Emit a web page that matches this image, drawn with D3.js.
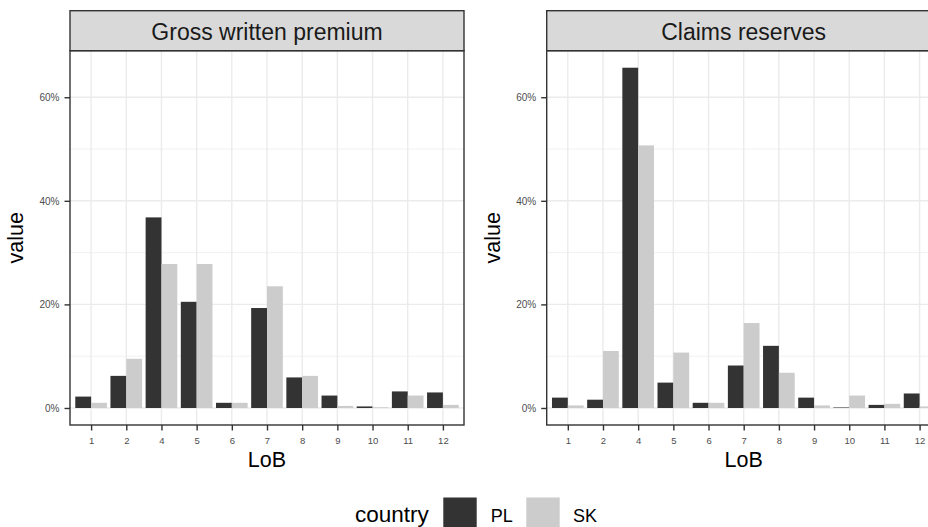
<!DOCTYPE html>
<html>
<head>
<meta charset="utf-8">
<script src="https://cdn.jsdelivr.net/npm/d3@7"></script>
<style>
  html, body { margin: 0; padding: 0; background: #fff; }
  svg { display: block; font-family: "Liberation Sans", Arial, Helvetica, sans-serif; }
</style>
</head>
<body>
<svg id="chart" width="928" height="527"></svg>
<script>
// Lines of business shown on the x axis (LoB 3 absent)
const lobs = ["1", "2", "4", "5", "6", "7", "8", "9", "10", "11", "12"];
const countries = ["PL", "SK"];
const facets = ["Gross written premium", "Claims reserves"];

// Shares per LoB, in percent
const gwpPL = [2.2, 6.2, 36.8, 20.5, 1.0, 19.3, 5.9, 2.4, 0.3, 3.2, 3.0];
const gwpSK = [1.0, 9.5, 27.8, 27.8, 1.0, 23.5, 6.2, 0.4, 0.15, 2.4, 0.6];
const crPL  = [2.0, 1.6, 65.7, 4.9, 1.0, 8.2, 12.0, 2.0, 0.1, 0.6, 2.8];
const crSK  = [0.5, 11.0, 50.7, 10.7, 1.0, 16.4, 6.8, 0.5, 2.4, 0.8, 0.3];

const yMajor = [0, 20, 40, 60];
const yMinor = [10, 30, 50];

const fillColor = { PL: "#333333", SK: "#CCCCCC" };

// Long-format rows per facet
const panelData = [
  { title: facets[0], rows: lobs.flatMap((l, i) => [
      { lob: l, country: "PL", value: gwpPL[i] },
      { lob: l, country: "SK", value: gwpSK[i] } ]) },
  { title: facets[1], rows: lobs.flatMap((l, i) => [
      { lob: l, country: "PL", value: crPL[i] },
      { lob: l, country: "SK", value: crSK[i] } ]) }
];

const svg = d3.select("#chart");

// Facet geometry
const panelW = 394;
const panelLefts = [70, 546.7];
const stripTop = 10.7, stripH = 40;
const panelTop = stripTop + stripH;
const panelBottom = 425;

// Shared y scale with 5% expansion
const allVals = panelData.flatMap(p => p.rows.map(r => r.value));
const yLo = Math.min(0, d3.min(allVals)), yHi = d3.max(allVals);
const pad = (yHi - yLo) * 0.05;
const y = d3.scaleLinear().domain([yLo - pad, yHi + pad]).range([panelBottom, panelTop]);

const font = "'Liberation Sans', Arial, sans-serif";

panelData.forEach((panel, pi) => {
  const left = panelLefts[pi];
  const x = d3.scalePoint().domain(lobs).range([left, left + panelW]).padding(0.6);
  const step = x.step();
  const dodge = d3.scaleBand().domain(countries).range([-0.45 * step, 0.45 * step]);

  const g = svg.append("g");

  // panel background
  g.append("rect").attr("x", left).attr("y", panelTop)
    .attr("width", panelW).attr("height", panelBottom - panelTop).attr("fill", "#fff");

  // grid lines
  g.selectAll(".ymin").data(yMinor).join("line")
    .attr("x1", left).attr("x2", left + panelW)
    .attr("y1", d => y(d)).attr("y2", d => y(d))
    .attr("stroke", "#EBEBEB").attr("stroke-width", 0.7);
  g.selectAll(".ymaj").data(yMajor).join("line")
    .attr("x1", left).attr("x2", left + panelW)
    .attr("y1", d => y(d)).attr("y2", d => y(d))
    .attr("stroke", "#EBEBEB").attr("stroke-width", 1.4);
  g.selectAll(".xmaj").data(lobs).join("line")
    .attr("x1", d => x(d)).attr("x2", d => x(d))
    .attr("y1", panelTop).attr("y2", panelBottom)
    .attr("stroke", "#EBEBEB").attr("stroke-width", 1.4);

  // bars
  g.selectAll(".bar").data(panel.rows).join("rect")
    .attr("x", d => x(d.lob) + dodge(d.country))
    .attr("width", dodge.bandwidth())
    .attr("y", d => y(Math.max(0, d.value)))
    .attr("height", d => Math.abs(y(d.value) - y(0)))
    .attr("fill", d => fillColor[d.country]);

  // panel border
  g.append("rect").attr("x", left).attr("y", panelTop)
    .attr("width", panelW).attr("height", panelBottom - panelTop)
    .attr("fill", "none").attr("stroke", "#333333").attr("stroke-width", 1.4);

  // strip
  g.append("rect").attr("x", left).attr("y", stripTop)
    .attr("width", panelW).attr("height", stripH)
    .attr("fill", "#D9D9D9").attr("stroke", "#333333").attr("stroke-width", 1.4);
  g.append("text").attr("x", left + panelW / 2).attr("y", stripTop + 29.3)
    .attr("text-anchor", "middle").attr("font-size", 23).attr("fill", "#1A1A1A")
    .text(panel.title);

  // y axis
  const ya = g.append("g").attr("transform", `translate(${left},0)`)
    .call(d3.axisLeft(y).tickValues(yMajor).tickFormat(d => d + "%").tickSize(5.5).tickPadding(5));
  ya.select(".domain").remove();
  ya.selectAll(".tick line").attr("stroke", "#333333").attr("stroke-width", 1.4);
  ya.selectAll(".tick text").attr("fill", "#4D4D4D").attr("font-size", 10).attr("font-family", font);

  // x axis
  const xa = g.append("g").attr("transform", `translate(0,${panelBottom})`)
    .call(d3.axisBottom(x).tickSize(5.5).tickPadding(7));
  xa.select(".domain").remove();
  xa.selectAll(".tick line").attr("stroke", "#333333").attr("stroke-width", 1.4);
  xa.selectAll(".tick text").attr("fill", "#4D4D4D").attr("font-size", 9.5).attr("font-family", font);

  // axis titles
  g.append("text").attr("x", left + panelW / 2).attr("y", 467)
    .attr("text-anchor", "middle").attr("font-size", 21.5).attr("fill", "#000")
    .text("LoB");
  g.append("text")
    .attr("transform", `translate(${left - 47},${(panelTop + panelBottom) / 2}) rotate(-90)`)
    .attr("text-anchor", "middle").attr("font-size", 21.5).attr("fill", "#000")
    .text("value");
});

// legend
const lg = svg.append("g");
lg.append("text").attr("x", 355).attr("y", 521.5).attr("font-size", 22.5).attr("fill", "#000").text("country");
const legendItems = [
  { key: "PL", box: 443.3, label: 490.7 },
  { key: "SK", box: 526.3, label: 573 }
];
lg.selectAll(".key").data(legendItems).join("rect")
  .attr("x", d => d.box).attr("y", 497.5).attr("width", 33.4).attr("height", 29.5)
  .attr("fill", d => fillColor[d.key]);
lg.selectAll(".lab").data(legendItems).join("text")
  .attr("x", d => d.label).attr("y", 521.5).attr("font-size", 18).attr("fill", "#000")
  .text(d => d.key);
</script>
</body>
</html>
